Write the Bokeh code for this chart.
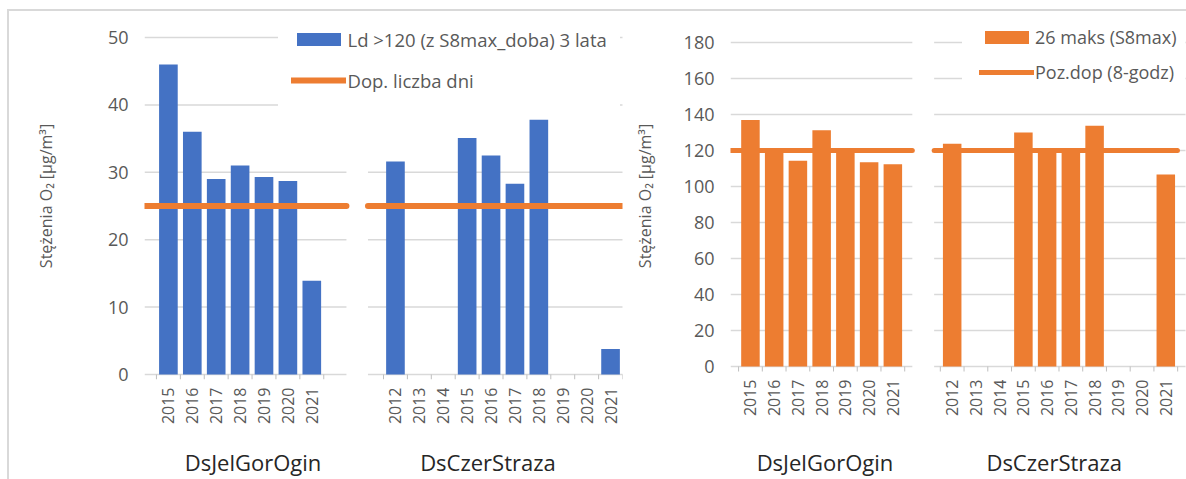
import math
from bokeh.plotting import figure
from bokeh.models import FixedTicker, Legend, LegendItem, Range1d, ColumnDataSource, LinearAxis
from bokeh.layouts import row
from bokeh.embed import file_html
from bokeh.resources import INLINE

# ---------------- data ----------------
group_names = ["DsJelGorOgin", "DsCzerStraza"]
years_g1 = ["2015", "2016", "2017", "2018", "2019", "2020", "2021"]
years_g2 = ["2012", "2013", "2014", "2015", "2016", "2017", "2018", "2019", "2020", "2021"]

# left chart: number of days > 120 (3-year mean)
days_g1 = [46.0, 36.0, 29.0, 31.0, 29.3, 28.7, 13.9]
days_g2 = [31.6, None, None, 35.1, 32.5, 28.3, 37.8, None, None, 3.8]
days_limit = 25
days_series = "Ld >120 (z S8max_doba) 3 lata"
days_limit_name = "Dop. liczba dni"

# right chart: 26th maximum of S8max
max26_g1 = [137.0, 120.5, 114.3, 131.3, 120.0, 113.5, 112.4]
max26_g2 = [123.7, None, None, 130.0, 120.0, 120.0, 133.7, None, None, 106.7]
max26_limit = 120
max26_series = "26 maks (S8max)"
max26_limit_name = "Poz.dop (8-godz)"

y_title = "Stężenia O\u2082 [µg/m\u00b3]"

BLUE = "#4472C4"
ORANGE = "#ED7D31"
GRID = "#d9d9d9"
TXT = "#595959"
FONT = "Open Sans"

# shared vertical layout (pixels, relative to content top)
H = 468
FRAME_TOP = 1
FRAME_H = 367


def build(vals1, vals2, limit, ymax, ystep, color, series_name, limit_name, cfg):
    n1, n2 = len(years_g1), len(years_g2)
    pos1 = [float(i) for i in range(n1)]
    pos2 = [n1 + cfg["gap"] + j for j in range(n2)]
    xs = pos1 + pos2
    tops = [float("nan") if v is None else v for v in list(vals1) + list(vals2)]
    labels = years_g1 + years_g2

    ppu = cfg["ppu"]
    y0 = -cfg["zero_above_bottom"] / ppu
    y1 = y0 + FRAME_H / ppu

    p = figure(width=cfg["width"], height=H,
               x_range=Range1d(cfg["xr"][0], cfg["xr"][1]), y_range=Range1d(y0, y1),
               output_backend="svg", toolbar_location=None,
               min_border_left=cfg["bl"], min_border_right=cfg["br"],
               min_border_top=FRAME_TOP, min_border_bottom=H - FRAME_TOP - FRAME_H)
    p.outline_line_color = None
    p.xgrid.visible = False
    p.ygrid.visible = False

    # grid segments per group (with a break between the groups)
    g1ext = (pos1[0] - 0.5 - cfg["g1pad"][0], pos1[-1] + 0.5 + cfg["g1pad"][1])
    g2ext = (pos2[0] - 0.5 - cfg["g2pad"][0], pos2[-1] + 0.5 + cfg["g2pad"][1])
    gx, gy = [], []
    for t in range(0, ymax + 1, ystep):
        for a, b in (g1ext, g2ext):
            gx.append([a, b])
            gy.append([t, t])
    p.multi_line(gx, gy, line_color=GRID, line_width=1.5)

    # category separator tick marks below the baseline
    bounds = [x - 0.5 for x in pos1] + [pos1[-1] + 0.5] + [x - 0.5 for x in pos2] + [pos2[-1] + 0.5]
    p.segment(x0=bounds, y0=[0] * len(bounds), x1=bounds, y1=[-5.0 / ppu] * len(bounds),
              line_color="#bfbfbf", line_width=1)

    src = ColumnDataSource(dict(x=xs, top=tops))
    bars = p.vbar(x="x", top="top", width=0.78, bottom=0, source=src,
                  fill_color=color, line_color=None)

    l2 = (g2ext[0], pos2[-1] + 0.5 + cfg["l2pad"])
    lim = p.multi_line([[g1ext[0], g1ext[1]], [l2[0], l2[1]]], [[limit, limit], [limit, limit]],
                       line_color=ORANGE, line_width=cfg["lw"], line_cap="round")

    # x axis: year labels at category centres
    xa = p.xaxis[0]
    xa.ticker = FixedTicker(ticks=xs)
    xa.major_label_overrides = {x: lab for x, lab in zip(xs, labels)}
    xa.major_label_orientation = math.pi / 2
    xa.major_label_standoff = cfg["year_standoff"]
    xa.major_tick_in = 0
    xa.major_tick_out = 0
    xa.minor_tick_in = 0
    xa.minor_tick_out = 0
    xa.major_tick_line_color = None
    xa.minor_tick_line_color = None
    xa.axis_line_color = None
    xa.major_label_text_font = FONT
    xa.major_label_text_font_size = "16px"
    xa.major_label_text_color = TXT

    # second axis: station (group) labels
    centers = [(g[0] + g[-1]) / 2 + s for g, s in zip((pos1, pos2), cfg["label_shift"])]
    ga = LinearAxis(ticker=FixedTicker(ticks=centers),
                    major_label_overrides={c: n for c, n in zip(centers, group_names)})
    ga.major_label_standoff = cfg["group_standoff"]
    ga.major_tick_in = 0
    ga.major_tick_out = 0
    ga.minor_tick_in = 0
    ga.minor_tick_out = 0
    ga.major_tick_line_color = None
    ga.minor_tick_line_color = None
    ga.axis_line_color = None
    ga.major_label_text_font = FONT
    ga.major_label_text_font_size = "22px"
    ga.major_label_text_color = "#262626"
    p.add_layout(ga, "below")

    ya = p.yaxis[0]
    ya.ticker = FixedTicker(ticks=list(range(0, ymax + 1, ystep)))
    ya.axis_line_color = None
    ya.major_tick_line_color = None
    ya.minor_tick_line_color = None
    ya.major_tick_out = 0
    ya.major_tick_in = 0
    ya.minor_tick_out = 0
    ya.major_label_standoff = 16
    ya.major_label_text_font = FONT
    ya.major_label_text_font_size = "18px"
    ya.major_label_text_color = TXT
    ya.axis_label = y_title
    ya.axis_label_text_font = FONT
    ya.axis_label_text_font_style = "normal"
    ya.axis_label_text_font_size = "16px"
    ya.axis_label_text_color = TXT
    ya.axis_label_standoff = cfg["title_standoff"]

    legend = Legend(items=[LegendItem(label=series_name, renderers=[bars]),
                           LegendItem(label=limit_name, renderers=[lim])],
                    location=cfg["legend_loc"], padding=cfg["legend_pad"],
                    spacing=cfg["legend_spacing"], glyph_width=55, glyph_height=16,
                    label_height=28, label_standoff=cfg["legend_standoff"], margin=0,
                    label_text_font=FONT, label_text_font_size=cfg["legend_fs"],
                    label_text_color=TXT, border_line_color="white", border_line_width=1,
                    background_fill_color="white", background_fill_alpha=1.0)
    p.add_layout(legend)
    return p


left_cfg = dict(width=621, bl=135, br=8, xr=(-1.0, 19.0), gap=2.5, ppu=6.74, zero_above_bottom=5,
                g1pad=(0.5, 0.95), g2pad=(0.65, 0.5), l2pad=0.14, lw=6,
                title_standoff=48, label_shift=(0.54, -0.63),
                year_standoff=8, group_standoff=19,
                legend_loc=(133.5, 272), legend_pad=12, legend_spacing=13,
                legend_fs="18.5px", legend_standoff=2)
right_cfg = dict(width=556, bl=99, br=1, xr=(-0.84, 18.33), gap=1.5, ppu=1.8, zero_above_bottom=13,
                 g1pad=(0.34, 0.32), g2pad=(0.26, 0.5), l2pad=-0.01, lw=5,
                 title_standoff=25, label_shift=(0.14, -0.2),
                 year_standoff=0, group_standoff=27,
                 legend_loc=(232, 276), legend_pad=16, legend_spacing=7,
                 legend_fs="18px", legend_standoff=1)

p1 = build(days_g1, days_g2, days_limit, 50, 10, BLUE, days_series, days_limit_name, left_cfg)
p2 = build(max26_g1, max26_g2, max26_limit, 180, 20, ORANGE, max26_series, max26_limit_name, right_cfg)

layout = row(p1, p2, styles={"margin-left": "7px", "margin-top": "9px",
                             "border-left": "2px solid #d9d9d9", "border-top": "2px solid #d9d9d9"})

with open("out.html", "w") as f:
    f.write(file_html(layout, INLINE))
